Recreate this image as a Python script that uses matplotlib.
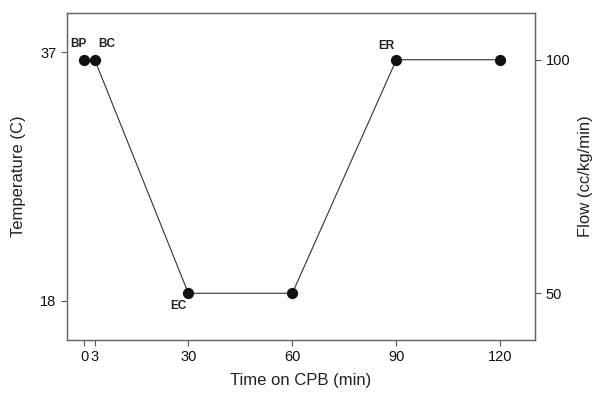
import matplotlib
matplotlib.use("Agg")
import matplotlib.pyplot as plt

plt.rcParams['font.family'] = ['Liberation Sans', 'DejaVu Sans']

# data: time on CPB (min) vs flow (cc/kg/min)
time_min = [0, 3, 30, 60, 90, 120]
flow = [100, 100, 50, 50, 100, 100]
temp_ticks = [18, 37]
flow_ticks = [50, 100]
event_labels = ["BP", "BC", "EC", "ER"]
event_idx = [0, 1, 2, 4]
event_offsets = [(-4, 11), (9, 11), (-7, -9.5), (-7, 10)]

fig = plt.figure(figsize=(5.97, 3.93), dpi=100)
ax = fig.add_axes([0.1122, 0.1349, 0.784, 0.832])
ax2 = ax.twinx()

ax2.plot(time_min, flow, color="#333333", lw=0.8, zorder=2)
ax2.scatter(time_min, flow, s=50, color="#111111", zorder=3)
for lab, i, (dx, dy) in zip(event_labels, event_idx, event_offsets):
    ax2.annotate(lab, (time_min[i], flow[i]), xytext=(dx, dy), textcoords="offset points",
                 ha="center", va="center", fontsize=8.5, fontweight="bold", color="#222222")

ax.set_xlim(-5, 130)
ax.set_ylim(15, 40)
ax2.set_ylim(40, 110)
ax.set_xticks(time_min)
ax.set_yticks(temp_ticks)
ax2.set_yticks(flow_ticks)

ax.set_xlabel("Time on CPB (min)", fontsize=12, color="#222222", labelpad=6)
ax.set_ylabel("Temperature (C)", fontsize=12, color="#222222", labelpad=10)
ax2.set_ylabel("Flow (cc/kg/min)", fontsize=12, color="#222222", labelpad=6)

for a in (ax, ax2):
    a.tick_params(labelsize=10.5, direction="out", length=4, width=0.8, colors="#555555", labelcolor="#111111")
    for s in a.spines.values():
        s.set_color("#666666")
        s.set_linewidth(0.9)

fig.savefig("out.png", dpi=100)
